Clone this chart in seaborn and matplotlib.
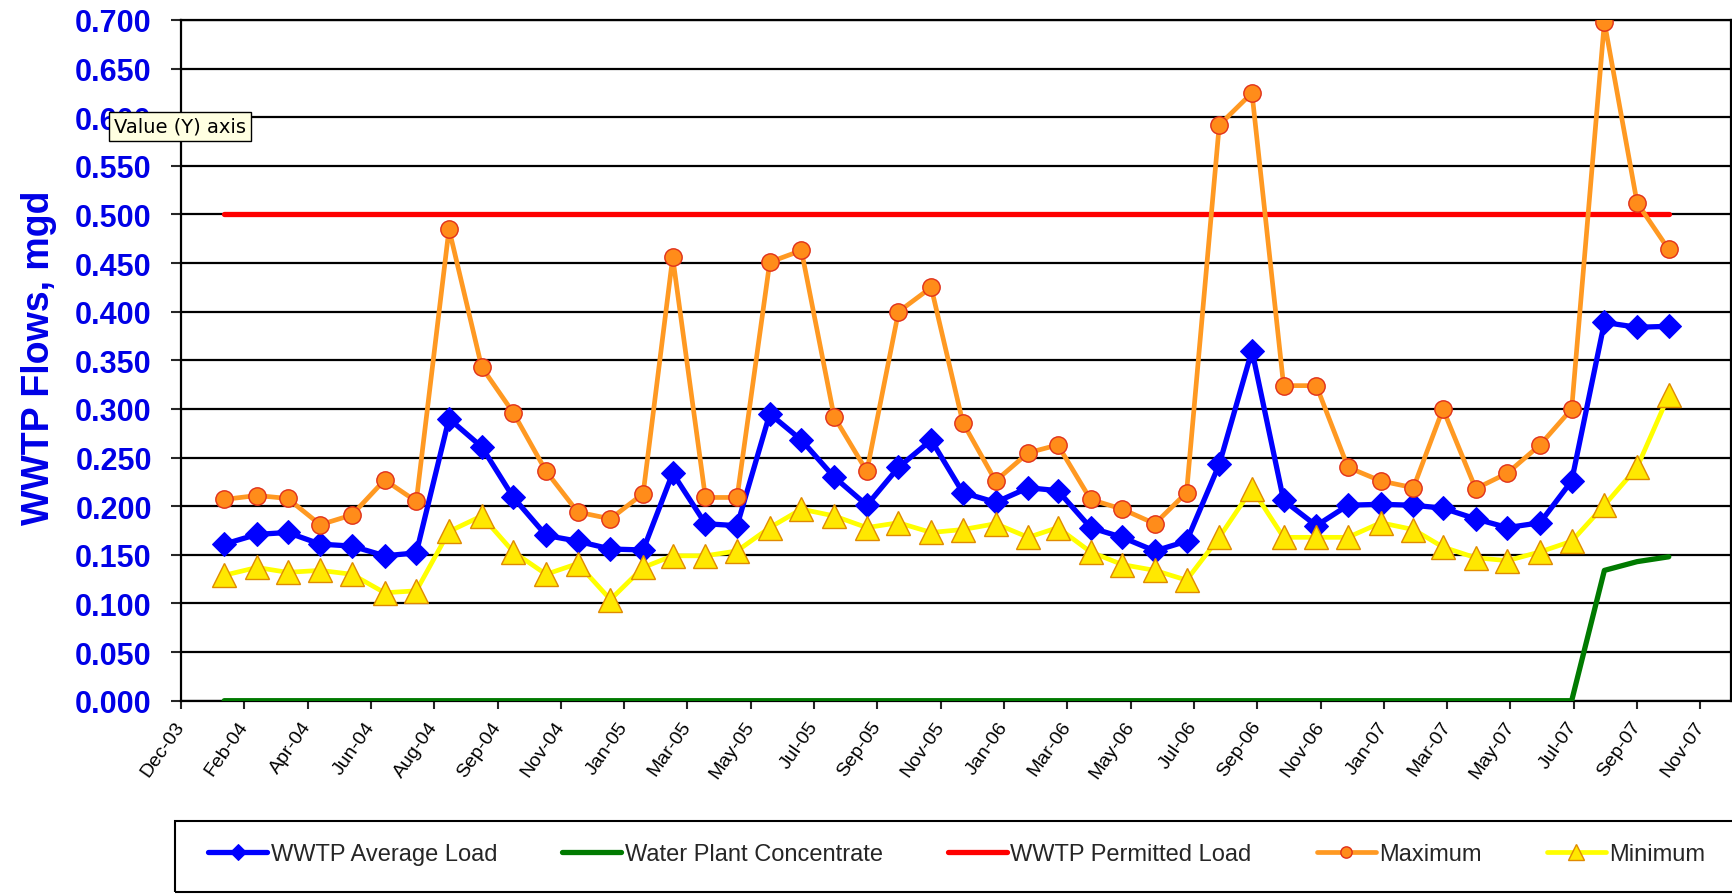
import numpy as np
import pandas as pd
import matplotlib
matplotlib.use("Agg")
import matplotlib.pyplot as plt
from matplotlib.patches import Rectangle
import seaborn as sns

# ---------------- data ----------------
MONTHS = pd.date_range("2004-01-01", "2007-10-01", freq="MS") + pd.Timedelta(days=14)

AVG_LOAD = [0.161, 0.171, 0.173, 0.161, 0.159, 0.149, 0.152, 0.290, 0.261, 0.209, 0.170, 0.164,
            0.156, 0.155, 0.234, 0.182, 0.180, 0.295, 0.268, 0.230, 0.201, 0.240, 0.268, 0.214,
            0.204, 0.219, 0.216, 0.178, 0.168, 0.154, 0.164, 0.243, 0.360, 0.206, 0.180, 0.201,
            0.202, 0.201, 0.198, 0.187, 0.178, 0.183, 0.226, 0.389, 0.384, 0.385]
CONCENTRATE = [0.0] * 43 + [0.134, 0.143, 0.148]
PERMITTED = [0.5] * 46
MAXIMUM = [0.207, 0.211, 0.208, 0.181, 0.191, 0.227, 0.205, 0.485, 0.343, 0.296, 0.236, 0.194,
           0.187, 0.213, 0.456, 0.209, 0.209, 0.451, 0.463, 0.292, 0.236, 0.400, 0.425, 0.286,
           0.226, 0.255, 0.263, 0.207, 0.197, 0.182, 0.214, 0.592, 0.625, 0.324, 0.324, 0.240,
           0.226, 0.219, 0.300, 0.218, 0.234, 0.263, 0.300, 0.698, 0.512, 0.464]
MINIMUM = [0.129, 0.137, 0.132, 0.134, 0.130, 0.111, 0.113, 0.174, 0.190, 0.153, 0.130, 0.141,
           0.104, 0.137, 0.149, 0.149, 0.154, 0.178, 0.197, 0.190, 0.178, 0.183, 0.173, 0.176,
           0.182, 0.168, 0.178, 0.153, 0.140, 0.134, 0.124, 0.168, 0.218, 0.168, 0.168, 0.168,
           0.183, 0.176, 0.158, 0.147, 0.144, 0.153, 0.164, 0.201, 0.240, 0.314]

SERIES_NAMES = ["WWTP Average Load", "Water Plant Concentrate", "WWTP Permitted Load",
                "Maximum", "Minimum"]

TICK_LABELS = ["Dec-03", "Feb-04", "Apr-04", "Jun-04", "Aug-04", "Sep-04", "Nov-04", "Jan-05",
               "Mar-05", "May-05", "Jul-05", "Sep-05", "Nov-05", "Jan-06", "Mar-06", "May-06",
               "Jul-06", "Sep-06", "Nov-06", "Jan-07", "Mar-07", "May-07", "Jul-07", "Sep-07",
               "Nov-07"]
AXIS_START = pd.Timestamp("2003-12-05")
AXIS_END = pd.Timestamp("2007-12-13")
TICK_STEP_DAYS = 60

Y_TICKS = np.arange(0, 0.7001, 0.05)

# ---------------- style ----------------
sns.set_style("white")
plt.rcParams["font.family"] = ["Liberation Sans", "DejaVu Sans"]

W, H = 1733, 895
fig = plt.figure(figsize=(W / 100, H / 100), dpi=100)
ax = fig.add_axes([181 / W, 1 - 701.7 / H, 1550 / W, (701.7 - 21) / H])

lw = 3.8
sns.lineplot(x=MONTHS, y=AVG_LOAD, ax=ax, color="#0000FF", lw=lw, marker="D",
             markersize=12.5, markeredgecolor="#0000FF", label=SERIES_NAMES[0], zorder=3)
sns.lineplot(x=MONTHS, y=CONCENTRATE, ax=ax, color="#007A00", lw=lw,
             label=SERIES_NAMES[1], zorder=4)
sns.lineplot(x=MONTHS, y=PERMITTED, ax=ax, color="#FF0000", lw=lw,
             label=SERIES_NAMES[2], zorder=5)
sns.lineplot(x=MONTHS, y=MAXIMUM, ax=ax, color="#FF9922", lw=3.4, marker="o",
             markersize=12.5, markerfacecolor="#FF8C1A", markeredgecolor="#E0301A",
             markeredgewidth=1.0, label=SERIES_NAMES[3], zorder=6)
sns.lineplot(x=MONTHS, y=MINIMUM, ax=ax, color="#FFFF00", lw=3.4, marker="^",
             markersize=17, markerfacecolor="#FFE800", markeredgecolor="#E08A00",
             markeredgewidth=1.0, label=SERIES_NAMES[4], zorder=7)

# axes
ax.set_ylim(0, 0.7)
ax.set_yticks(Y_TICKS)
ax.set_yticklabels([f"{v:.3f}" for v in Y_TICKS])
ax.set_xlim(AXIS_START, AXIS_END)
tick_pos = [AXIS_START + pd.Timedelta(days=TICK_STEP_DAYS * k) for k in range(len(TICK_LABELS))]
ax.set_xticks(tick_pos)
ax.set_xticklabels(TICK_LABELS)
ax.set_xlabel("")

ax.grid(axis="y", color="black", lw=1.6)
ax.set_axisbelow(True)
for s in ax.spines.values():
    s.set_color("black")
    s.set_linewidth(1.6)

ax.tick_params(axis="y", direction="out", length=7, width=1.5, pad=14, left=True,
               labelsize=22, labelcolor="#0000E6")
for t in ax.get_yticklabels():
    t.set_fontweight("bold")
ax.tick_params(axis="x", direction="out", length=6, width=1.5, pad=10, bottom=True,
               labelsize=14, labelcolor="black")
plt.setp(ax.get_xticklabels(), rotation=55, ha="right", va="center", rotation_mode="anchor")

ax.set_ylabel("WWTP Flows, mgd", fontsize=27, fontweight="bold", color="#0000E6")
ax.yaxis.set_label_coords((57 - 181) / 1550, 0.505)

# legend (frame drawn separately so it runs past the right edge, as in the screenshot)
handles, labels = ax.get_legend_handles_labels()
ax.get_legend().remove()
leg = fig.legend(handles, labels, loc="upper left", bbox_to_anchor=(186 / W, 1 - 822 / H),
                 ncol=5, frameon=False, fontsize=17, handlelength=2.5, handletextpad=0.15,
                 columnspacing=2.75, borderpad=0.95, borderaxespad=0, markerscale=0.65)
fig.patches.append(Rectangle((175 / W, 2 / H), 1600 / W, 71 / H, transform=fig.transFigure,
                             fill=False, ec="black", lw=1.5, zorder=1))

# tooltip seen in the screenshot
fig.text(114 / W, 1 - 127.5 / H, "Value (Y) axis", fontsize=14, family="DejaVu Sans",
         ha="left", va="center", color="black",
         bbox=dict(boxstyle="square,pad=0.28", fc="#FFFFE1", ec="black", lw=1), zorder=10)

fig.savefig("out.png", dpi=100)
